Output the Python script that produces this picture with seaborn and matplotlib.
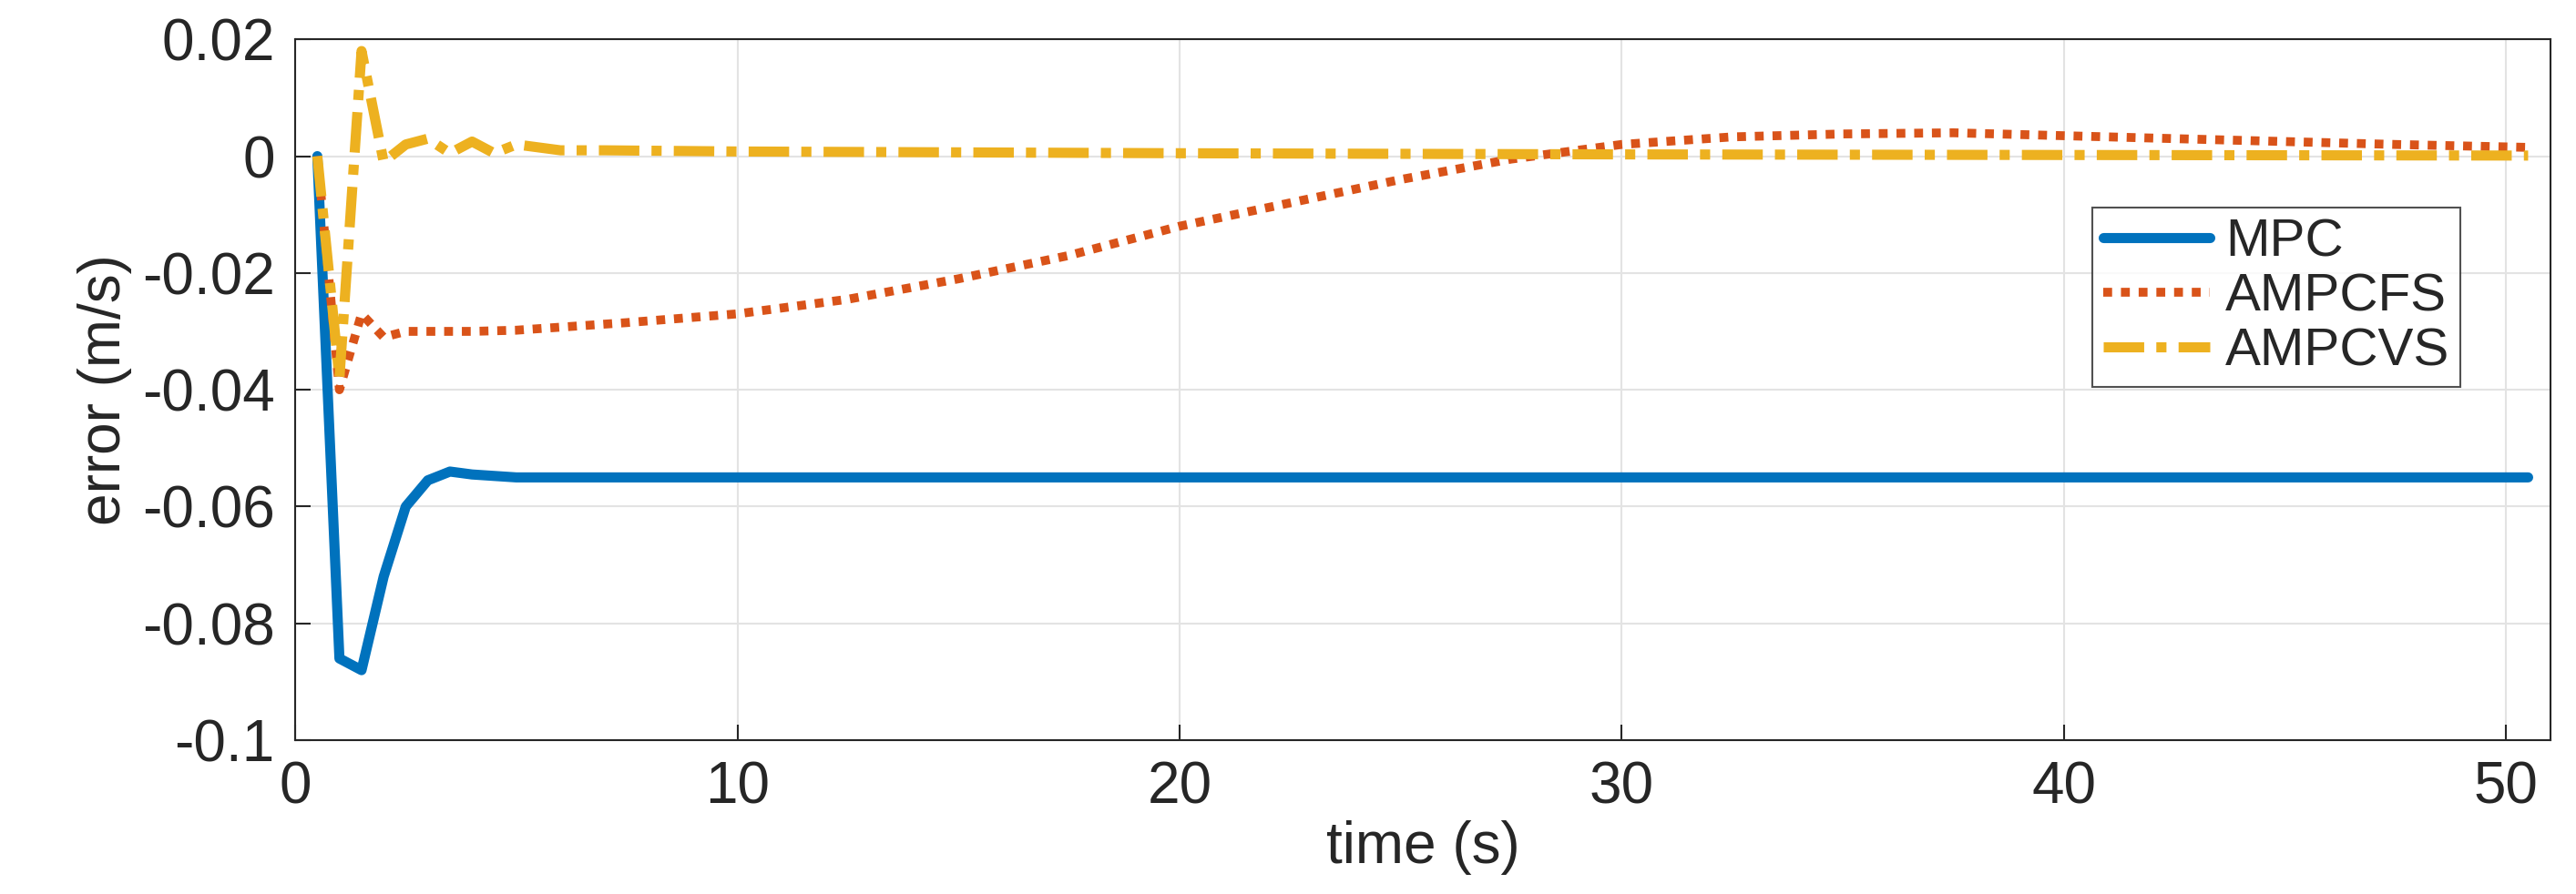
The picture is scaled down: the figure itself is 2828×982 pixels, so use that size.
import numpy as np
import pandas as pd
import matplotlib
matplotlib.use("Agg")
import matplotlib.pyplot as plt
import seaborn as sns

t_mpc = [0.5, 1.0, 1.5, 2.0, 2.5, 3.0, 3.5, 4.0, 5.0, 10, 20, 30, 40, 50.5]
mpc = [0.0, -0.086, -0.088, -0.072, -0.060, -0.0555, -0.054, -0.0545, -0.055, -0.055, -0.055, -0.055, -0.055, -0.055]
t_fs = [0.5, 1.0, 1.5, 2.0, 2.5, 3.0, 4.0, 5.0, 7.5, 10, 12.5, 15, 17.5, 20, 22.5, 25, 27.5, 30, 32.5, 35, 37.5, 40, 42.5, 45, 47.5, 50.5]
fs = [0.0, -0.040, -0.027, -0.031, -0.030, -0.030, -0.030, -0.0298, -0.0285, -0.027, -0.0245, -0.021, -0.017, -0.012, -0.008, -0.004, -0.0005, 0.002, 0.0033, 0.0038, 0.004, 0.0035, 0.003, 0.0025, 0.002, 0.0015]
t_vs = [0.5, 1.0, 1.5, 2.0, 2.5, 3.0, 3.5, 4.0, 4.5, 5.0, 6.0, 7.0, 10, 20, 30, 40, 50.5]
vs = [0.0, -0.038, 0.018, -0.001, 0.002, 0.003, 0.0005, 0.0025, 0.0005, 0.002, 0.001, 0.001, 0.0008, 0.0005, 0.0003, 0.0002, 0.0001]

sns.set_theme(style="whitegrid")
plt.rcParams['font.family'] = ['Liberation Sans', 'DejaVu Sans']
fig, ax = plt.subplots(figsize=(28.28, 9.82), dpi=100)
fig.subplots_adjust(left=0.1146, right=0.990, top=0.956, bottom=0.172)

sns.lineplot(x=t_mpc, y=mpc, ax=ax, color="#0072BD", lw=8, label="MPC")
sns.lineplot(x=t_fs, y=fs, ax=ax, color="#D95319", lw=7, ls=(0, (1, 1)), label="AMPCFS")
sns.lineplot(x=t_vs, y=vs, ax=ax, color="#EDB120", lw=8, ls=(0, (4, 1.2, 1, 1.2)), label="AMPCVS")

ax.set_xlim(0, 51)
ax.set_ylim(-0.1, 0.02)
ax.set_xticks([0, 10, 20, 30, 40, 50])
ax.set_yticks([-0.1, -0.08, -0.06, -0.04, -0.02, 0, 0.02])
ax.set_yticklabels(["-0.1", "-0.08", "-0.06", "-0.04", "-0.02", "0", "0.02"])
ax.tick_params(labelsize=46, direction="in", length=12, width=1.5, colors="#262626",
               left=True, bottom=True, pad=16)
ax.set_xlabel("time (s)", fontsize=46, color="#262626", labelpad=4)
ax.set_ylabel("error (m/s)", fontsize=46, color="#262626", labelpad=8)
ax.grid(True, color="#e3e3e3", lw=1.5)
for s in ax.spines.values():
    s.set_color("#262626"); s.set_linewidth(1.5)
ax.set_facecolor("white")
leg = ax.legend(loc="upper left", bbox_to_anchor=(0.797, 0.76), fontsize=42, frameon=True,
                fancybox=False, edgecolor="#262626", handlelength=2.0, handletextpad=0.3,
                borderpad=0.2, labelspacing=0.1, borderaxespad=0)
leg.get_frame().set_linewidth(1.5)
fig.savefig("out.png", dpi=100)
